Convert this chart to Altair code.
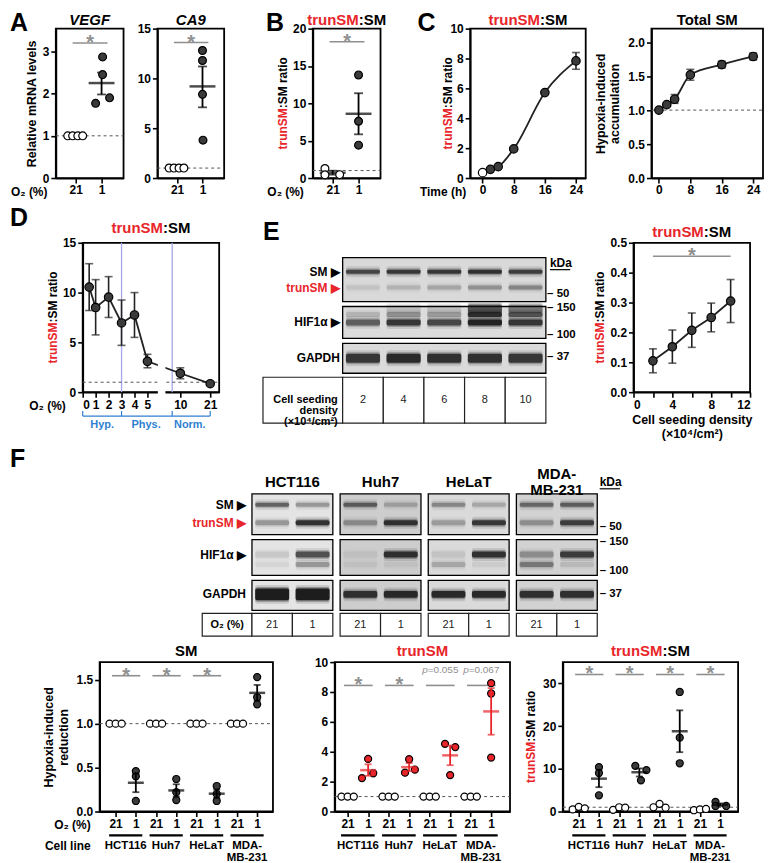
import altair as alt
import pandas as pd

FONT = "Liberation Sans"
RED = "#e8252a"
GRAY = "#8f8f8f"
BLUE = "#2f7fd1"
LAV = "#a7a7ea"
DARK = "#3b3b3b"

# ======================= DATA =======================
# A : relative mRNA levels, O2 21% vs 1%
vegf_21 = [1.0, 1.0, 1.0, 1.0]
vegf_21_dx = [-0.31, -0.12, 0.08, 0.27]
vegf_1 = [2.87, 2.45, 1.77, 1.90]
vegf_1_dx = [0.04, 0.04, -0.23, 0.31]
vegf_stats = [2.25, 1.98, 2.50]          # mean, mean-SEM, mean+SEM
vegf_sig = [0.88, 2.23, 3.2]

ca9_21 = [1.0, 1.0, 1.0, 1.0]
ca9_21_dx = [-0.31, -0.12, 0.08, 0.27]
ca9_1 = [12.8, 11.8, 8.4, 3.8]
ca9_1_dx = [0.0, 0.0, 0.0, 0.02]
ca9_stats = [9.2, 7.1, 11.2]
ca9_sig = [0.88, 2.23, 13.6]

# B : trunSM:SM ratio
b_21 = [1.27, 0.42, 0.45]
b_21_dx = [-0.3, -0.3, 0.27]
b_21_stats = [0.71, 0.45, 0.98]
b_1 = [13.8, 7.6, 4.4]
b_1_dx = [0.0, 0.0, 0.0]
b_1_stats = [8.6, 5.85, 11.35]
b_sig = [0.88, 2.23, 18.25]

# C : time course
c_time = [0, 2, 4, 8, 16, 24]
c_ratio = [0.36, 0.58, 0.76, 1.95, 5.72, 7.84]
c_ratio_lo = [0.36, 0.58, 0.76, 1.85, 5.62, 7.28]
c_ratio_hi = [0.36, 0.58, 0.76, 2.05, 5.82, 8.40]
c_ratio_open = [True, False, False, False, False, False]
c_total = [1.00, 1.08, 1.16, 1.52, 1.67, 1.79]
c_total_lo = [1.00, 1.06, 1.10, 1.44, 1.62, 1.74]
c_total_hi = [1.00, 1.10, 1.23, 1.60, 1.72, 1.84]

# D : O2 titration
d_o2 = [0.5, 1, 2, 3, 4, 5, 10, 21]
d_ratio = [10.55, 8.5, 9.55, 6.95, 7.75, 3.1, 1.9, 0.85]
d_lo = [8.2, 5.75, 7.5, 4.7, 5.5, 2.45, 1.35, 0.85]
d_hi = [12.9, 11.3, 11.6, 9.25, 10.0, 3.8, 2.45, 0.85]
d_ticks = [0, 1, 2, 3, 4, 5, 10, 21]
d_zone_edges = [0, 3, 8.5, 21]
d_zone_names = ["Hyp.", "Phys.", "Norm."]
d_zone_centers = [1.5, 4.9, 13.5]

# E : cell seeding density
e_density = [2, 4, 6, 8, 10]
e_ratio = [0.105, 0.152, 0.207, 0.250, 0.305]
e_lo = [0.065, 0.097, 0.150, 0.202, 0.233]
e_hi = [0.145, 0.208, 0.265, 0.298, 0.377]
e_sig = [2, 10, 0.455]
# E blot band intensities (lanes = densities 2..10)
e_sm_int = [0.70, 0.80, 0.80, 0.85, 0.75]
e_trun_int = [0.08, 0.15, 0.20, 0.30, 0.35]
e_hif_smear_int = [0.0, 0.10, 0.10, 0.60, 0.40]
e_hif_up_int = [0.15, 0.30, 0.25, 0.85, 0.60]
e_hif_int = [0.55, 0.80, 0.70, 0.95, 0.80]
e_gapdh_int = [0.80, 0.90, 0.85, 0.85, 0.80]

# F : cell lines
f_lines = ["HCT116", "Huh7", "HeLaT", "MDA-MB-231"]
f_head = ["HCT116", "Huh7", "HeLaT", "MDA-\nMB-231"]
f_o2 = ["21", "1"]
# blot band intensities, 8 lanes (21,1 per line)
f_sm_int = [0.55, 0.30, 0.55, 0.20, 0.35, 0.20, 0.50, 0.55]
f_trun_int = [0.30, 0.85, 0.30, 0.85, 0.25, 0.80, 0.30, 0.75]
f_hif_int = [0.10, 0.65, 0.05, 0.85, 0.08, 0.85, 0.30, 0.75]
f_hif_low_int = [0.05, 0.30, 0.05, 0.05, 0.20, 0.05, 0.40, 0.10]
f_gapdh_int = [1.00, 1.00, 0.85, 0.90, 0.90, 0.90, 0.85, 0.85]
f_bg = ["#e4e4e4", "#cdcdcd", "#dadada", "#d2d2d2"]

# SM (hypoxia-induced reduction)
sm_21 = [[1, 1, 1], [1, 1, 1], [1, 1, 1], [1, 1, 1]]
sm_1 = [[0.46, 0.40, 0.12], [0.37, 0.22, 0.13], [0.29, 0.20, 0.12], [1.53, 1.30, 1.22]]
sm_1_dx = [[0, 0, 0], [0, 0, 0], [0, 0, 0], [0, 0, 0]]
sm_stats = [[0.327, 0.22, 0.43], [0.24, 0.17, 0.31], [0.203, 0.155, 0.25], [1.35, 1.26, 1.44]]
# trunSM (hypoxia-induced accumulation)
tr_21 = [[1, 1, 1], [1, 1, 1], [1, 1, 1], [1, 1, 1]]
tr_1 = [[3.52, 2.24, 2.56], [3.50, 2.60, 2.80], [4.53, 4.31, 2.44], [8.59, 7.90, 3.61]]
tr_1_dx = [[0, -0.3, 0.25], [0, -0.2, 0.28], [-0.25, 0.25, 0], [0, 0, 0]]
tr_stats = [[2.77, 2.39, 3.16], [2.97, 2.70, 3.24], [3.76, 3.10, 4.42], [6.70, 5.14, 8.26]]
tr_sig_text = ["*", "*", "p=0.055", "p=0.067"]
# trunSM:SM ratio
ra_21 = [[0.5, 1.1, 0.75], [0.4, 1.0, 0.9], [1.0, 1.8, 0.9], [0.3, 0.5, 0.6]]
ra_1 = [[10.4, 9.0, 3.8], [10.7, 9.7, 7.3], [28.0, 17.3, 11.3], [2.26, 1.3, 1.3]]
ra_1_dx = [[0, 0, 0], [-0.2, 0.35, 0.08], [0, 0, 0], [-0.23, -0.23, 0.3]]
ra_stats = [[7.7, 5.7, 9.8], [9.2, 8.2, 10.1], [18.8, 13.9, 23.7], [1.6, 1.3, 1.9]]
dx21 = [-0.3, 0.0, 0.3]

# ======================= HELPERS =======================
EM = {'t': .333, 'r': .389, 'u': .611, 'n': .611, 'S': .667, 'M': .833, ':': .333,
      ' ': .278, 'a': .556, 'i': .278, 'o': .611, 'p': .556, '=': .584, '0': .556,
      '.': .278, '5': .556, '6': .556, '7': .556}
TS = 15      # panel title size
LS = 25      # panel letter size


def tw(s, size):
    return sum(EM.get(c, .6) for c in s) * size


def one(**cols):
    if not cols:
        cols = {'v': [0]}
    return pd.DataFrame(cols)


def txt(t, x, y, size=12, color='black', align='left', baseline='middle',
        weight='bold', angle=0, style='normal', lh=None):
    kw = dict(align=align, baseline=baseline, fontSize=size, fontWeight=weight,
              color=color, fontStyle=style, font=FONT, lineBreak='\n')
    if angle:
        kw['angle'] = angle
    if lh:
        kw['lineHeight'] = lh
    return alt.Chart(pd.DataFrame({'t': [t]})).mark_text(**kw).encode(x=x, y=y, text='t:N')


def rs_title(cx, y, size=TS, rest=':SM'):
    wr = tw('trunSM', size)
    total = wr + tw(rest, size)
    ax_ = cx - total / 2 + wr
    return [txt('trunSM', alt.value(ax_), alt.value(y), size, RED, 'right'),
            txt(rest, alt.value(ax_), alt.value(y), size, 'black', 'left')]


def rs_ytitle(x, cy, size=12):
    wr = tw('trunSM', size)
    total = wr + tw(':SM ratio', size)
    ay = cy + total / 2 - wr
    return [txt('trunSM', alt.value(x), alt.value(ay), size, RED, 'right', angle=270),
            txt(':SM ratio', alt.value(x), alt.value(ay), size, 'black', 'left', angle=270)]


def axes(xdom, ydom, xaxis, yaxis, xrange=None, yreverse=False):
    xs = dict(domain=xdom, nice=False, zero=False)
    if xrange is not None:
        xs['range'] = xrange
    ys = dict(domain=ydom, nice=False, zero=False)
    if yreverse:
        ys['reverse'] = True

    def X(f):
        return alt.X(f, type='quantitative', scale=alt.Scale(**xs), axis=xaxis)

    def Y(f):
        return alt.Y(f, type='quantitative', scale=alt.Scale(**ys), axis=yaxis)
    return X, Y


def ax(values, expr=None, fmt=None, title=None, **kw):
    d = dict(values=values, title=title, labelAngle=0)
    if expr:
        d['labelExpr'] = expr
    if fmt:
        d['format'] = fmt
    d.update(kw)
    return alt.Axis(**d)


def framed(layers, w, h):
    return alt.layer(*layers).properties(
        width=w, height=h, view=alt.ViewBackground(stroke='black', strokeWidth=1.8))


def spacer(w):
    return alt.Chart(one()).mark_point(opacity=0).encode(
        x=alt.value(0), y=alt.value(0)).properties(width=w, height=10)


def dashed_one(X, Y, w, y=1.0):
    return alt.Chart(one(y=[y])).mark_rule(strokeDash=[3, 3], color='#555', strokeWidth=1).encode(
        y=Y('y'), x=alt.value(0), x2=alt.value(w))


def points_layer(X, Y, df, size):
    return alt.Chart(df).mark_point(shape='circle', filled=True, size=size, stroke='black',
                                    strokeWidth=1.2, opacity=1).encode(
        x=X('x'), y=Y('y'), fill=alt.Fill('fill:N', scale=None))


def stat_layers(X, Y, df, bar_w, cap_w, thick=2.5):
    c = alt.Color('col:N', scale=None)
    return [
        alt.Chart(df).mark_rule(strokeWidth=1.8).encode(x=X('x'), y=Y('lo'), y2=alt.Y2('hi'), color=c),
        alt.Chart(df).mark_tick(orient='horizontal', size=cap_w, thickness=1.8).encode(x=X('x'), y=Y('lo'), color=c),
        alt.Chart(df).mark_tick(orient='horizontal', size=cap_w, thickness=1.8).encode(x=X('x'), y=Y('hi'), color=c),
        alt.Chart(df).mark_tick(orient='horizontal', size=bar_w, thickness=thick).encode(x=X('x'), y=Y('mean'), color=c),
    ]


def sig_layers(X, Y, df):
    out = [alt.Chart(df).mark_rule(color=GRAY, strokeWidth=1.6).encode(x=X('x0'), x2=alt.X2('x1'), y=Y('y'))]
    st = df[df.t == '*']
    if len(st):
        out.append(alt.Chart(st).mark_text(color=GRAY, fontSize=20, baseline='alphabetic', dy=6,
                                           font=FONT, fontWeight='bold').encode(
            x=X('xc'), y=Y('y'), text='t:N'))
    return out


# ======================= ROW 1 =======================
H1 = 150
AB_XDOM = [0.23, 2.85]
AB_XAX = ax([1, 2], "datum.value == 1 ? '21' : '1'")


def ab_panel(p21, d21, p1, d1, stats1, stats21, sig, w, ydom, yvals, ytitle, title_layers, extra):
    yaxis = ax(yvals, title=ytitle, titlePadding=4) if ytitle else ax(yvals)
    X, Y = axes(AB_XDOM, ydom, AB_XAX, yaxis)
    pts = pd.DataFrame({'x': [1 + d for d in d21] + [2 + d for d in d1],
                        'y': p21 + p1,
                        'fill': ['white'] * len(p21) + [DARK] * len(p1)})
    st = [dict(x=2, mean=stats1[0], lo=stats1[1], hi=stats1[2], col='black')]
    if stats21:
        st.append(dict(x=1, mean=stats21[0], lo=stats21[1], hi=stats21[2], col='black'))
    st = pd.DataFrame(st)
    sg = pd.DataFrame({'x0': [sig[0]], 'x1': [sig[1]], 'y': [sig[2]],
                       'xc': [(sig[0] + sig[1]) / 2], 't': ['*']})
    layers = [dashed_one(X, Y, w)] + sig_layers(X, Y, sg) + stat_layers(X, Y, st, 26, 9) + \
             [points_layer(X, Y, pts, 62)] + title_layers + extra
    return framed(layers, w, H1)


vegf = ab_panel(vegf_21, vegf_21_dx, vegf_1, vegf_1_dx, vegf_stats, None, vegf_sig, 68,
                [0, 3.54], [0, 1, 2, 3], "Relative mRNA levels",
                [txt('VEGF', alt.value(34), alt.value(-9), TS, style='italic', align='center')],
                [txt('A', alt.value(-46), alt.value(-18), LS, baseline='top'),
                 txt('O₂ (%)', alt.value(-45), alt.value(H1 + 14), 12)])
ca9 = ab_panel(ca9_21, ca9_21_dx, ca9_1, ca9_1_dx, ca9_stats, None, ca9_sig, 67,
               [0, 15], [0, 5, 10, 15], None,
               [txt('CA9', alt.value(33.5), alt.value(-9), TS, style='italic', align='center')], [])
bpan = ab_panel(b_21, b_21_dx, b_1, b_1_dx, b_1_stats, b_21_stats, b_sig, 68,
                [0, 20], [0, 5, 10, 15, 20], None,
                rs_title(34, -9),
                [txt('B', alt.value(-47), alt.value(-18), LS, baseline='top'),
                 txt('O₂ (%)', alt.value(-9), alt.value(H1 + 14), 12, align='right')]
                + rs_ytitle(-30, H1 / 2))


def time_panel(vals, lo, hi, opens, w, xdom, ydom, yvals, yfmt, yaxis_title, title_layers, extra, dashed):
    yaxis = ax(yvals, fmt=yfmt, title=yaxis_title, titlePadding=6) if yaxis_title else ax(yvals, fmt=yfmt)
    X, Y = axes(xdom, ydom, ax([0, 8, 16, 24]), yaxis)
    df = pd.DataFrame({'x': c_time, 'y': vals, 'lo': lo, 'hi': hi,
                       'fill': ['white' if o else DARK for o in opens]})
    layers = []
    if dashed:
        layers.append(dashed_one(X, Y, w))
    layers += [
        alt.Chart(df).mark_rule(strokeWidth=1.6, color='#222').encode(x=X('x'), y=Y('lo'), y2=alt.Y2('hi')),
        alt.Chart(df).mark_tick(orient='horizontal', size=8, thickness=1.6, color='#222').encode(x=X('x'), y=Y('lo')),
        alt.Chart(df).mark_tick(orient='horizontal', size=8, thickness=1.6, color='#222').encode(x=X('x'), y=Y('hi')),
        alt.Chart(df).mark_line(color='#222', strokeWidth=1.8, interpolate='monotone').encode(x=X('x'), y=Y('y')),
        points_layer(X, Y, df, 72),
    ] + title_layers + extra
    return framed(layers, w, H1)


C1W, C2W = 116, 112
c1 = time_panel(c_ratio, c_ratio_lo, c_ratio_hi, c_ratio_open, C1W, [-3.2, 26.5], [0, 10],
                [0, 2, 4, 6, 8, 10], None, None, rs_title(C1W / 2, -9),
                [txt('C', alt.value(-53), alt.value(-18), LS, baseline='top'),
                 txt('Time (h)', alt.value(-4), alt.value(H1 + 14), 12, align='right')]
                + rs_ytitle(-22, H1 / 2), False)
c2 = time_panel(c_total, c_total_lo, c_total_hi, [False] * 6, C2W, [-1.9, 26.5], [0, 2.2],
                [0, 0.5, 1.0, 1.5, 2.0], '.1f', ['Hypoxia-induced', 'accumulation'],
                [txt('Total SM', alt.value(C2W / 2), alt.value(-9), TS, align='center')], [], True)

row1 = alt.hconcat(spacer(45), vegf, spacer(34), ca9, spacer(89), bpan, spacer(90), c1, spacer(66), c2,
                   spacing=0, bounds='flush')

# ======================= ROW 2 =======================
H2 = 150
DW = 137
dX, dY = axes([0, 5.77, 10, 24.3], [0, 15], ax(d_ticks), ax([0, 5, 10, 15]), xrange=[0, 75, 98, 137])
ddf = pd.DataFrame({'x': d_o2, 'y': d_ratio, 'lo': d_lo, 'hi': d_hi, 'fill': [DARK] * len(d_o2)})
d_layers = [
    alt.Chart(one(x=[3, 8.5])).mark_rule(color=LAV, strokeWidth=1.3).encode(
        x=dX('x'), y=alt.value(0), y2=alt.value(H2)),
    dashed_one(dX, dY, DW),
    alt.Chart(ddf).mark_rule(strokeWidth=1.6, color='#222').encode(x=dX('x'), y=dY('lo'), y2=alt.Y2('hi')),
    alt.Chart(ddf).mark_tick(orient='horizontal', size=8, thickness=1.6, color='#222').encode(x=dX('x'), y=dY('lo')),
    alt.Chart(ddf).mark_tick(orient='horizontal', size=8, thickness=1.6, color='#222').encode(x=dX('x'), y=dY('hi')),
    alt.Chart(ddf).mark_line(color='#222', strokeWidth=1.8).encode(x=dX('x'), y=dY('y')),
    alt.Chart(one(x0=[5.85], x1=[7.25])).mark_rect(color='white').encode(
        x=dX('x0'), x2=alt.X2('x1'), y=alt.value(2), y2=alt.value(H2 + 4)),
    points_layer(dX, dY, ddf, 72),
    # zone brackets
    alt.Chart(one(x0=[0], x1=[21])).mark_rule(color=BLUE, strokeWidth=1.2).encode(
        x=dX('x0'), x2=alt.X2('x1'), y=alt.value(H2 + 24)),
    alt.Chart(one(x=d_zone_edges)).mark_rule(color=BLUE, strokeWidth=1.2).encode(
        x=dX('x'), y=alt.value(H2 + 19), y2=alt.value(H2 + 24)),
    alt.Chart(pd.DataFrame({'x': d_zone_centers, 't': d_zone_names})).mark_text(
        color=BLUE, font=FONT, fontWeight='bold', fontSize=11, baseline='middle').encode(
        x=dX('x'), y=alt.value(H2 + 33), text='t:N'),
] + rs_title(DW / 2, -15) + rs_ytitle(-30, H2 / 2) + [
    txt('D', alt.value(-73), alt.value(-37), LS, baseline='top'),
    txt('O₂ (%)', alt.value(-17), alt.value(H2 + 14), 12, align='right'),
]
dpan = framed(d_layers, DW, H2)

# ---- E blot
EBW, EBH = 284, 181
eX, eY = axes([-1.96, 5], [0, EBH], None, None, yreverse=True)


def band_rows(xs, yc, hgt, ints):
    rows = []
    for x, a in zip(xs, ints):
        for grow, f in [(7, 0.15), (3, 0.35), (0, 1.0)]:
            rows.append(dict(x0=x + 0.08, x1=x + 0.92, y0=yc - (hgt + grow) / 2,
                             y1=yc + (hgt + grow) / 2, op=min(1.0, a * f * 0.9)))
    return rows


lanes_e = list(range(5))
e_strips = pd.DataFrame({'x0': [0, 0, 0], 'x1': [5, 5, 5], 'y0': [15, 64, 101], 'y1': [59, 96, 131],
                         'bg': ['#d9d9d9', '#dcdcdc', '#dadada']})
e_bands = pd.DataFrame(band_rows(lanes_e, 29, 4, e_sm_int) + band_rows(lanes_e, 45, 4, e_trun_int)
                       + band_rows(lanes_e, 66, 8, e_hif_smear_int) + band_rows(lanes_e, 72, 5, e_hif_up_int)
                       + band_rows(lanes_e, 80, 6, e_hif_int) + band_rows(lanes_e, 116, 9, e_gapdh_int))
e_cells = pd.DataFrame({'x0': [-1.96] + lanes_e, 'x1': [0] + [l + 1 for l in lanes_e],
                        'y0': [135] * 6, 'y1': [181] * 6})
e_cell_txt = pd.DataFrame({'x': [l + 0.5 for l in lanes_e], 'y': [158] * 5, 't': [str(d) for d in e_density]})
e_row_lab = pd.DataFrame({'x': [-0.07] * 3, 'y': [29, 80, 116], 't': ['SM ▶', 'HIF1α ▶', 'GAPDH']})
e_kda = pd.DataFrame({'x': [5.03] * 4, 'y': [51, 66, 93, 115], 't': ['– 50', '– 150', '– 100', '– 37']})


def blot_common(X, Y, strips, bands, cells, cell_txt, row_lab, trun_y, kda, kda_xy, label_cell):
    return [
        alt.Chart(strips).mark_rect(stroke='black', strokeWidth=1.3).encode(
            x=X('x0'), x2=alt.X2('x1'), y=Y('y0'), y2=alt.Y2('y1'), fill=alt.Fill('bg:N', scale=None)),
        alt.Chart(bands).mark_rect(color='#111', cornerRadius=2).encode(
            x=X('x0'), x2=alt.X2('x1'), y=Y('y0'), y2=alt.Y2('y1'), opacity=alt.Opacity('op:Q', scale=None)),
        alt.Chart(cells).mark_rect(fill='white', stroke='#222', strokeWidth=1.2).encode(
            x=X('x0'), x2=alt.X2('x1'), y=Y('y0'), y2=alt.Y2('y1')),
        alt.Chart(cell_txt).mark_text(font=FONT, fontSize=11, color='#222').encode(
            x=X('x'), y=Y('y'), text='t:N'),
        alt.Chart(row_lab).mark_text(font=FONT, fontSize=12, fontWeight='bold', align='right').encode(
            x=X('x'), y=Y('y'), text='t:N'),
        alt.Chart(pd.DataFrame({'x': [row_lab.x.iloc[0]], 'y': [trun_y], 't': ['trunSM ▶']})).mark_text(
            font=FONT, fontSize=12, fontWeight='bold', align='right', color=RED).encode(
            x=X('x'), y=Y('y'), text='t:N'),
        alt.Chart(kda).mark_text(font=FONT, fontSize=11.5, fontWeight='bold', align='left').encode(
            x=X('x'), y=Y('y'), text='t:N'),
        alt.Chart(pd.DataFrame({'x': [kda_xy[0]], 'y': [kda_xy[1]], 't': ['kDa']})).mark_text(
            font=FONT, fontSize=12, fontWeight='bold', align='left').encode(x=X('x'), y=Y('y'), text='t:N'),
        alt.Chart(pd.DataFrame({'x0': [kda_xy[0]], 'x1': [kda_xy[0] + kda_xy[2]], 'y': [kda_xy[1] + 7]})).mark_rule(
            color='black', strokeWidth=1.2).encode(x=X('x0'), x2=alt.X2('x1'), y=Y('y')),
        alt.Chart(label_cell).mark_text(font=FONT, fontSize=11, fontWeight='bold', align=label_cell.a.iloc[0],
                                        baseline='middle', lineBreak='\n', lineHeight=11).encode(
            x=X('x'), y=Y('y'), text='t:N'),
    ]


e_label_cell = pd.DataFrame({'x': [-0.12], 'y': [158], 't': ['Cell seeding\ndensity\n(×10⁴/cm²)'], 'a': ['right']})
eblot = alt.layer(*(blot_common(eX, eY, e_strips, e_bands, e_cells, e_cell_txt, e_row_lab, 45, e_kda,
                                (5.1, 20, 0.5), e_label_cell)
                    + [txt('E', alt.value(0), alt.value(-23), LS, baseline='top')])).properties(width=EBW, height=EBH)

# ---- E chart
EW = 117
eqX, eqY = axes([0, 12], [0, 0.5],
                ax([0, 2, 4, 6, 8, 10, 12], title=['Cell seeding density', '(×10⁴/cm²)'], titlePadding=3),
                ax([0, 0.1, 0.2, 0.3, 0.4, 0.5], fmt='.1f'))
edf = pd.DataFrame({'x': e_density, 'y': e_ratio, 'lo': e_lo, 'hi': e_hi, 'fill': [DARK] * 5})
esg = pd.DataFrame({'x0': [e_sig[0]], 'x1': [e_sig[1]], 'y': [e_sig[2]], 'xc': [(e_sig[0] + e_sig[1]) / 2], 't': ['*']})
e_layers = sig_layers(eqX, eqY, esg) + [
    alt.Chart(edf).mark_rule(strokeWidth=1.6, color='#222').encode(x=eqX('x'), y=eqY('lo'), y2=alt.Y2('hi')),
    alt.Chart(edf).mark_tick(orient='horizontal', size=8, thickness=1.6, color='#222').encode(x=eqX('x'), y=eqY('lo')),
    alt.Chart(edf).mark_tick(orient='horizontal', size=8, thickness=1.6, color='#222').encode(x=eqX('x'), y=eqY('hi')),
    alt.Chart(edf).mark_line(color='#222', strokeWidth=1.8).encode(x=eqX('x'), y=eqY('y')),
    points_layer(eqX, eqY, edf, 72),
] + rs_title(EW / 2, -11) + rs_ytitle(-34, H2 / 2)
echart = framed(e_layers, EW, H2)

row2 = alt.hconcat(spacer(72), dpan, spacer(44), eblot, spacer(88), echart, spacing=0, bounds='flush')

# ======================= ROW 3 (F blots) =======================
FBW, FBH = 397, 143
fX, fY = axes([-1.23, 8.55], [0, FBH], None, None, yreverse=True)
p0 = [0, 2.18, 4.36, 6.54]
f_lane_x = [p0[i // 2] + i % 2 for i in range(8)]
f_strip_rows = []
for p in range(4):
    for (y0, y1) in [(0, 41), (46, 82), (87, 117)]:
        f_strip_rows.append(dict(x0=p0[p], x1=p0[p] + 2, y0=y0, y1=y1, bg=f_bg[p]))
f_strips = pd.DataFrame(f_strip_rows)
f_bands = pd.DataFrame(
    band_rows(f_lane_x, 11, 4, f_sm_int) + band_rows(f_lane_x, 29, 5, f_trun_int)
    + band_rows(f_lane_x, 61, 6, f_hif_int) + band_rows(f_lane_x, 71, 5, f_hif_low_int)
    + band_rows(f_lane_x[:2], 101, 12, f_gapdh_int[:2]) + band_rows(f_lane_x[2:], 101, 7, f_gapdh_int[2:]))
f_cells = pd.DataFrame({'x0': [-1.23] + f_lane_x, 'x1': [0] + [x + 1 for x in f_lane_x],
                        'y0': [120] * 9, 'y1': [143] * 9})
f_cell_txt = pd.DataFrame({'x': [x + 0.5 for x in f_lane_x], 'y': [131.5] * 8, 't': f_o2 * 4})
f_row_lab = pd.DataFrame({'x': [-0.15] * 3, 'y': [11, 61, 101], 't': ['SM ▶', 'HIF1α ▶', 'GAPDH']})
f_kda = pd.DataFrame({'x': [8.6] * 4, 'y': [33, 48, 78, 101], 't': ['– 50', '– 150', '– 100', '– 37']})
f_label_cell = pd.DataFrame({'x': [-0.615], 'y': [131.5], 't': ['O₂ (%)'], 'a': ['center']})
f_heads = pd.DataFrame({'x': [p + 1 for p in p0], 'y': [-12, -12, -12, -20], 't': f_head})
fblot = alt.layer(*(blot_common(fX, fY, f_strips, f_bands, f_cells, f_cell_txt, f_row_lab, 29, f_kda,
                                (8.6, -12, 0.5), f_label_cell)
                    + [alt.Chart(f_heads).mark_text(font=FONT, fontSize=15, fontWeight='bold', lineBreak='\n',
                                                   lineHeight=16).encode(x=fX('x'), y=fY('y'), text='t:N'),
                       txt('F', alt.value(-193), alt.value(-47), LS, baseline='top')])).properties(width=FBW, height=FBH)

row3 = alt.hconcat(spacer(192), fblot, spacing=0, bounds='flush')

# ======================= ROW 4 (F dot plots) =======================
H4 = 150
F_XAX = ax(list(range(8)), "datum.value % 2 == 0 ? '21' : '1'")


def f_panel(v21, d21, v1, d1, stats, fill1, scol, w, xdom, ydom, yvals, yfmt, ytitle, sig_y, sig_text,
            title_layers, extra, star_groups):
    yaxis = ax(yvals, fmt=yfmt, title=ytitle, titlePadding=6) if ytitle else ax(yvals, fmt=yfmt)
    X, Y = axes(xdom, ydom, F_XAX, yaxis)
    xs, ys, fills = [], [], []
    for g in range(4):
        for v, d in zip(v21[g], d21):
            xs.append(2 * g + d); ys.append(v); fills.append('white')
        for v, d in zip(v1[g], d1[g]):
            xs.append(2 * g + 1 + d); ys.append(v); fills.append(fill1)
    pts = pd.DataFrame({'x': xs, 'y': ys, 'fill': fills})
    st = pd.DataFrame({'x': [2 * g + 1 for g in range(4)], 'mean': [s[0] for s in stats],
                       'lo': [s[1] for s in stats], 'hi': [s[2] for s in stats], 'col': [scol] * 4})
    sg = pd.DataFrame({'x0': [2 * g - 0.18 for g in star_groups], 'x1': [2 * g + 1.22 for g in star_groups],
                       'y': [sig_y] * len(star_groups), 'xc': [2 * g + 0.52 for g in star_groups],
                       't': [sig_text[i] for i in range(len(star_groups))]})
    groups = pd.DataFrame({'x0': [2 * g - 0.32 for g in range(4)], 'x1': [2 * g + 1.32 for g in range(4)],
                           'xc': [2 * g + 0.5 for g in range(4)],
                           't': ['HCT116', 'Huh7', 'HeLaT', 'MDA-\nMB-231']})
    layers = [dashed_one(X, Y, w)] + sig_layers(X, Y, sg) + [points_layer(X, Y, pts, 50)] + \
        stat_layers(X, Y, st, 16, 7) + [
        alt.Chart(groups).mark_rule(color='black', strokeWidth=2.2).encode(
            x=X('x0'), x2=alt.X2('x1'), y=alt.value(H4 + 24)),
        alt.Chart(groups).mark_text(font=FONT, fontSize=11.5, fontWeight='bold', baseline='top',
                                    lineBreak='\n', lineHeight=12).encode(
            x=X('xc'), y=alt.value(H4 + 29), text='t:N'),
    ] + title_layers + extra
    return framed(layers, w, H4)


FW = 176
smc = f_panel(sm_21, dx21, sm_1, sm_1_dx, sm_stats, DARK, 'black', 174, [-0.79, 7.78], [0, 1.7],
              [0, 0.5, 1.0, 1.5], '.1f', ['Hypoxia-induced', 'reduction'], 1.545, ['*', '*', '*'],
              [txt('SM', alt.value(87), alt.value(-11), TS, align='center')],
              [txt('O₂ (%)', alt.value(-9), alt.value(H4 + 14), 12, align='right'),
               txt('Cell line', alt.value(-9), alt.value(H4 + 35), 12, align='right')],
              [0, 1, 2])


def pval_layers(X, Y, gs, texts, y, size=10):
    out = []
    for g, t in zip(gs, texts):
        num = t[1:]
        wp = tw('p', size)
        total = wp + tw(num, size)
        off = -total / 2 + wp
        d = pd.DataFrame({'x': [2 * g + 0.52], 'y': [y]})
        out.append(alt.Chart(d.assign(t='p')).mark_text(font=FONT, fontSize=size, fontStyle='italic', color=GRAY,
                                                         align='right', dx=off).encode(x=X('x'), y=Y('y'), text='t:N'))
        out.append(alt.Chart(d.assign(t=num)).mark_text(font=FONT, fontSize=size, color=GRAY,
                                                         align='left', dx=off).encode(x=X('x'), y=Y('y'), text='t:N'))
    return out


trX, trY = axes([-0.63, 7.92], [0, 10], F_XAX, ax([0, 2, 4, 6, 8, 10]))
trc = f_panel(tr_21, dx21, tr_1, tr_1_dx, tr_stats, RED, RED, FW, [-0.63, 7.92], [0, 10],
              [0, 2, 4, 6, 8, 10], None, ['Hypoxia-induced', 'accumulation'], 8.44, tr_sig_text,
              [txt('trunSM', alt.value(FW / 2), alt.value(-11), TS, color=RED, align='center')]
              + pval_layers(trX, trY, [2, 3], tr_sig_text[2:], 9.45),
              [], [0, 1, 2, 3])
rac = f_panel(ra_21, dx21, ra_1, ra_1_dx, ra_stats, DARK, 'black', FW, [-0.79, 7.89], [0, 35],
              [0, 10, 20, 30], None, None, 32.1, ['*', '*', '*', '*'],
              rs_title(FW / 2, -11) + rs_ytitle(-32, H4 / 2), [], [0, 1, 2, 3])

row4 = alt.hconcat(spacer(89), smc, spacer(62), trc, spacer(53), rac, spacing=0, bounds='flush')

# ======================= ASSEMBLY =======================
chart = alt.vconcat(row1, row2, row3, row4, spacing=6).properties(padding=0).configure(
    font=FONT
).configure_view(stroke=None).configure_axis(
    labelFont=FONT, labelFontWeight='bold', labelFontSize=12, labelColor='black', labelPadding=2,
    titleFont=FONT, titleFontWeight='bold', titleFontSize=12.5, titleColor='black',
    domainColor='black', domainWidth=1.8, tickColor='black', tickWidth=1.6, tickSize=5, grid=False
)

chart.save("out.html", embed_options={"renderer": "svg", "actions": False})
